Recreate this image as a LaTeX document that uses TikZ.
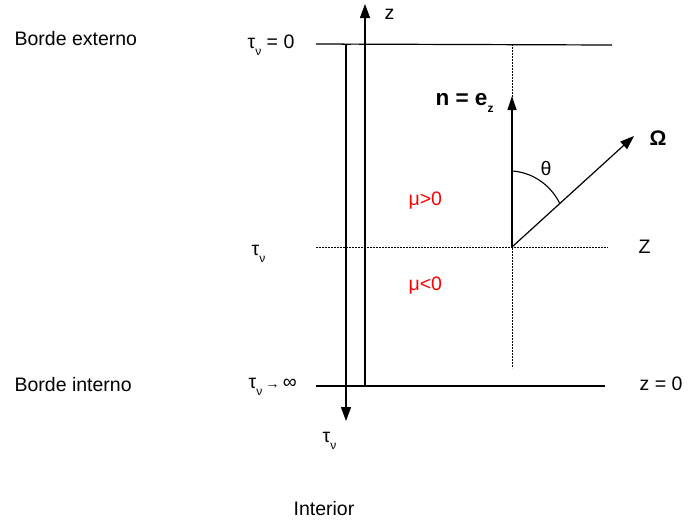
\documentclass[tikz,border=0pt]{standalone}
\usepackage{fontspec}
\setmainfont{Liberation Sans}
\usetikzlibrary{arrows.meta, positioning}
\definecolor{cred}{HTML}{FF0000}
\definecolor{cblack}{HTML}{000000}
\tikzset{
  every picture/.style={line width=1.2pt},
  lbl/.style={font=\fontsize{19.5}{23}\selectfont, anchor=base west, inner sep=0pt},
  axis/.style={-{Triangle[length=14pt, width=10pt]}, draw=cblack},
  bar/.style={{Bar[width=9pt, line width=1.2pt]}-{Triangle[length=14pt, width=10pt]}, draw=cblack},
  dots/.style={draw=cblack, line width=1pt, dash pattern=on 1.6pt off 1.4pt},
  layer/.style={draw=cblack, line width=1.2pt},
}
\newcommand{\tnu}{τ\raisebox{-7pt}{\fontsize{12}{12}\selectfont ν}}
\begin{document}
\begin{tikzpicture}[x=1pt, y=-1pt]
  \useasboundingbox (0,0) rectangle (699,523);
  % boundaries
  \coordinate (topL) at (316,44);   \coordinate (topR) at (612,45);
  \coordinate (botL) at (316,386);  \coordinate (botR) at (605,386);
  \coordinate (midL) at (316,247);  \coordinate (midR) at (608,247);
  \draw[layer] (topL) -- (topR);
  \draw[layer] (botL) -- (botR);
  \draw[dots] (midL) -- (midR);
  % axes
  \coordinate (tauS) at (346,44);  \coordinate (tauE) at (346,421);
  \coordinate (zS) at (365,386);   \coordinate (zE) at (365,4);
  \draw[bar] (tauS) -- (tauE);
  \draw[bar] (zS) -- (zE);
  % direction
  \coordinate (O) at (512,247);
  \coordinate (vtop) at (512,44); \coordinate (vbot) at (512,368);
  \coordinate (ntip) at (512,96);
  \coordinate (wtip) at (634,136);
  \draw[dots] (vtop) -- (vbot);
  \draw[axis, line width=1.2pt, -{Triangle[length=14pt, width=9pt]}] (O) -- (ntip);
  \draw[axis, line width=1.2pt] (O) -- (wtip);
  \coordinate (arcS) at (513,171); \coordinate (arcE) at (560,204);
  \draw[line width=1.1pt] (arcS) .. controls (535,173) and (552,187) .. (arcE);
  % labels
  \node[lbl] (ext) at (14,45) {Borde externo};
  \node[lbl] (int) at (14,391) {Borde interno};
  \node[lbl] (t0) at (247,48) {\tnu{} = 0};
  \node[lbl] (tinf) at (248,388) {\tnu{}\,{\fontsize{14}{14}\selectfont →}\,∞};
  \node[lbl] (tmid) at (251,255) {\tnu};
  \node[lbl] (tbot) at (322,442) {\tnu};
  \node[lbl] (zlab) at (384,19) {z};
  \node[lbl] (Zlab) at (638,253) {Z};
  \node[lbl] (z0) at (639,390) {z = 0};
  \node[lbl, text=cred] (mup) at (408,205) {μ>0};
  \node[lbl, text=cred] (mum) at (408,290) {μ<0};
  \node[lbl] (theta) at (540,175) {θ};
  \node[lbl, font=\fontsize{22.5}{25}\selectfont\bfseries] (nlab) at (435,105) {n = e\raisebox{-7pt}{\fontsize{12}{12}\selectfont z}};
  \node[lbl, font=\fontsize{21}{23}\selectfont\bfseries] (om) at (649,145) {Ω};
  \node[lbl] (inter) at (293,515) {Interior};
\end{tikzpicture}
\end{document}
